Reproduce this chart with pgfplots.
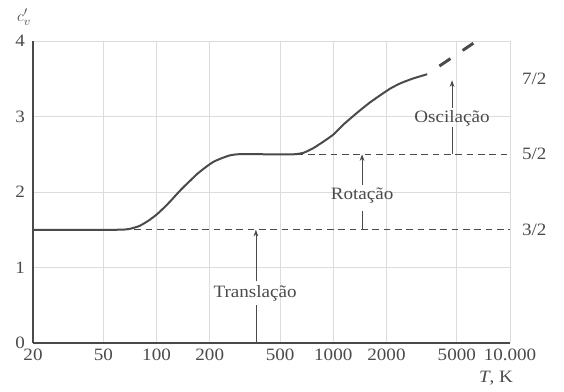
\documentclass[border=0pt]{standalone}
\usepackage{pgfplots}
\pgfplotsset{compat=1.18}
\usepackage{fontspec}
\setmainfont[FakeStretch=1.1]{Liberation Serif}
\usetikzlibrary{arrows.meta}
\definecolor{ink}{HTML}{4A4A4A}
\definecolor{gridc}{HTML}{DCDCDC}
\newcommand{\lbl}{\fontsize{13}{15}\selectfont}
\begin{document}
\begin{tikzpicture}
\begin{axis}[
  scale only axis, width=357.75pt, height=226.5pt,
  xmode=log, xmin=20, xmax=10000, ymin=0, ymax=4,
  axis x line*=bottom, axis y line*=left,
  axis line style={ink, line width=1.5pt, -},
  xtick={20,50,100,200,500,1000,2000,5000,10000},
  xticklabels={20,50,100,200,500,1000,2000,5000,10.000},
  ytick={0,1,2,3,4},
  major tick length=0pt,
  grid=major, major grid style={gridc, line width=0.6pt},
  tick label style={font=\lbl, text=ink},
  yticklabel style={xshift=-2.5pt},
  xticklabel style={yshift=-1pt},
  /pgf/number format/assume math mode=true,
  clip=false,
]
% dashed reference levels
\addplot[ink, line width=0.9pt, dash pattern=on 5pt off 3.5pt] coordinates {(75,1.5) (10000,1.5)};
\addplot[ink, line width=0.9pt, dash pattern=on 5pt off 3.5pt] coordinates {(620,2.5) (10000,2.5)};
% main curve
\addplot[ink, line width=1.5pt, smooth, tension=0.3] coordinates {
 (20,1.5) (60,1.5) (70,1.51) (80,1.55) (90,1.62) (100,1.70) (110,1.79)
 (120,1.88) (130,1.97) (140,2.05) (155,2.15) (170,2.24) (190,2.33)
 (210,2.40) (235,2.45) (260,2.485) (290,2.5) (400,2.5) (600,2.5)
 (680,2.52) (770,2.58) (870,2.66) (1000,2.76) (1150,2.9) (1365,3.05)
 (1600,3.18) (1840,3.28) (2100,3.37) (2400,3.44) (2800,3.5) (3400,3.56)};
% extrapolated part
\addplot[ink, line width=2.2pt, dash pattern=on 10pt off 11pt, dash phase=10pt] coordinates {(3400,3.56) (6200,3.97)};
% annotations
\draw[ink, line width=0.6pt] (axis cs:365,0) -- (axis cs:365,0.5);
\draw[ink, line width=0.6pt, -{Stealth[length=5pt,width=3.5pt]}] (axis cs:365,0.82) -- (axis cs:365,1.5);
\node[text=ink, font=\lbl] at (axis cs:361,0.66) {Translação};
\draw[ink, line width=0.6pt] (axis cs:1455,1.5) -- (axis cs:1455,1.75);
\draw[ink, line width=0.6pt, -{Stealth[length=5pt,width=3.5pt]}] (axis cs:1455,2.09) -- (axis cs:1455,2.5);
\node[text=ink, font=\lbl] at (axis cs:1455,1.95) {Rotação};
\draw[ink, line width=0.6pt] (axis cs:4700,2.5) -- (axis cs:4700,2.86);
\draw[ink, line width=0.6pt, -{Stealth[length=5pt,width=3.5pt]}] (axis cs:4700,3.11) -- (axis cs:4700,3.48);
\node[text=ink, font=\lbl] at (axis cs:4700,2.97) {Oscilação};
\node[text=ink, font=\lbl, anchor=west] at (axis cs:10000,3.5) [xshift=5.5pt] {7/2};
\node[text=ink, font=\lbl, anchor=west] at (axis cs:10000,2.5) [xshift=5.5pt] {5/2};
\node[text=ink, font=\lbl, anchor=west] at (axis cs:10000,1.5) [xshift=5.5pt] {3/2};
\node[text=ink, font=\lbl] at (rel axis cs:0,1) [xshift=-6.75pt, yshift=18pt] {$c'_{v}$};
\node[text=ink, font=\lbl, anchor=north east] at (rel axis cs:1,0) [xshift=5.8pt, yshift=-17.5pt] {\textit{T}, K};
\end{axis}
\path ([shift={(-24.75pt,-36.75pt)}]current axis.south west) rectangle ([shift={(40.5pt,30.75pt)}]current axis.north east);
\end{tikzpicture}
\end{document}
